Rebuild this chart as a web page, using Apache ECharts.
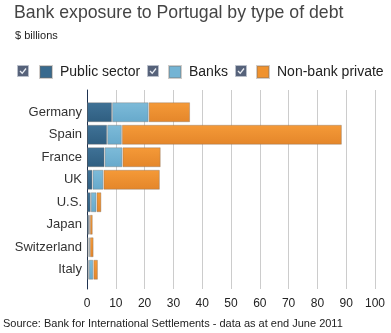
<!DOCTYPE html>
<html><head><meta charset="utf-8">
<script src="https://cdn.jsdelivr.net/npm/echarts@6/dist/echarts.min.js"></script>
<style>html,body{margin:0;padding:0;background:#fff}#c{width:391px;height:333px}</style>
</head><body><div id="c"></div>
<script>
var categories = ['Germany','Spain','France','UK','U.S.','Japan','Switzerland','Italy'];
var publicSector = [8.7, 7.0, 6.1, 1.9, 1.3, 0.7, 0.5, 0.6];
var banks = [12.7, 5.1, 6.2, 3.8, 2.0, 0.3, 0.5, 1.6];
var nonBank = [14.4, 76.4, 13.3, 19.6, 1.7, 1.0, 1.3, 1.6];
var seriesNames = ['Public sector','Banks','Non-bank private'];
var xTicks = [0,10,20,30,40,50,60,70,80,90,100];

var chart = echarts.init(document.getElementById('c'), null, {renderer:'canvas'});
function grad(a,b){return new echarts.graphic.LinearGradient(0,0,0,1,[{offset:0,color:a},{offset:1,color:b}]);}
var colors = [grad('#3f7297','#2f5e80'), grad('#7dbbd9','#67a9cb'), grad('#f59a38','#e4862a')];
var flat = ['#386a8e','#74b4d4','#f0922e'];
var legendX = [39, 168, 256];
var checkX = [17, 147, 235];
var graphics = checkX.map(function(x){
  return {type:'group', x:x, y:65, children:[
    {type:'rect', shape:{x:0.5,y:0.5,width:11,height:11},
      style:{fill:'#56627a', stroke:'#b9bfca', lineWidth:1}},
    {type:'polyline', shape:{points:[[3,6],[5.2,8.3],[9,3.5]]},
      style:{stroke:'#e8ecf2', lineWidth:1.3, fill:null}}
  ]};
});
var values = [publicSector, banks, nonBank];
var series = seriesNames.map(function(n,i){
  return {name:n, type:'bar', stack:'t', xAxisIndex:0, yAxisIndex:0, barWidth:20,
    data: values[i], itemStyle:{color:colors[i], borderColor:'rgba(120,110,100,0.35)', borderWidth:1}};
});
chart.setOption({
  animation:false,
  title:[
    {text:'Bank exposure to Portugal by type of debt', left:14, top:4, padding:0,
     textStyle:{fontFamily:'Liberation Sans, Arial, sans-serif', fontSize:17.7, fontWeight:'normal', color:'#444'}},
    {text:'$ billions', left:15, top:30, padding:0,
     textStyle:{fontFamily:'Liberation Sans, Arial, sans-serif', fontSize:11, fontWeight:'normal', color:'#222'}},
    {text:'Source: Bank for International Settlements - data as at end June 2011', left:3, top:318, padding:0,
     textStyle:{fontFamily:'Liberation Sans, Arial, sans-serif', fontSize:11, fontWeight:'normal', color:'#222'}}
  ],
  legend: seriesNames.map(function(n,i){
    return {data:[{name:n, itemStyle:{color:flat[i]}}], left:legendX[i], top:65, padding:0, icon:'rect', itemWidth:12, itemHeight:12,
      selectedMode:false,
      textStyle:{fontFamily:'Liberation Sans, Arial, sans-serif', fontSize:14, color:'#222', padding:[0,0,0,3]}};
  }),
  graphic: graphics,
  grid:[
    {left:87, right:16, top:101, bottom:52},
    {left:87, right:16, top:90, bottom:44}
  ],
  xAxis:[
    {type:'value', gridIndex:0, min:0, max:100, interval:10, show:false},
    {type:'value', gridIndex:1, min:0, max:100, interval:10,
     axisLine:{show:false}, axisTick:{show:false},
     splitLine:{show:true, lineStyle:{color:'#cccccc', width:1}},
     axisLabel:{margin:9, fontFamily:'Liberation Sans, Arial, sans-serif', fontSize:12, color:'#222',
       formatter:function(v){return xTicks.indexOf(v)>=0?String(v):'';}}}
  ],
  yAxis:[
    {type:'category', gridIndex:0, data:categories, inverse:true,
     axisLine:{show:false}, axisTick:{show:false},
     axisLabel:{margin:5, fontFamily:'Liberation Sans, Arial, sans-serif', fontSize:13, color:'#333'}},
    {type:'value', gridIndex:1, min:0, max:1,
     axisLine:{show:true, onZero:false, lineStyle:{color:'#1e3250', width:1}},
     axisTick:{show:false}, axisLabel:{show:false}, splitLine:{show:false}}
  ],
  series: series
});
</script></body></html>
